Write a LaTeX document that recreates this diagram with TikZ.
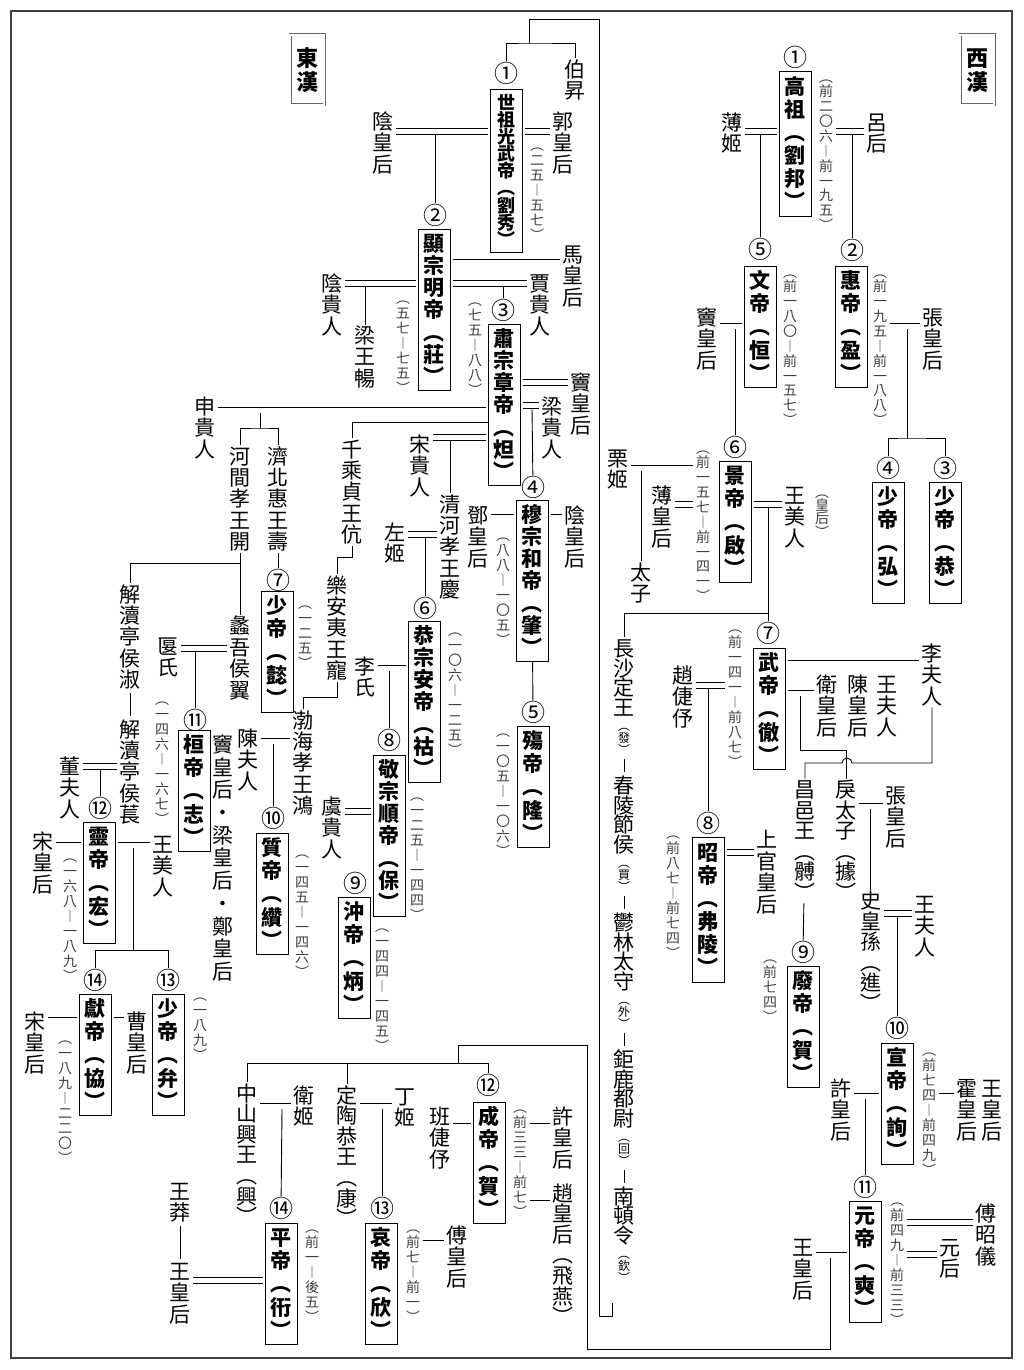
\documentclass[tikz,border=0pt]{standalone}
\usepackage{fontspec}
\newfontfamily\cjk{Noto Sans CJK TC}
\usetikzlibrary{positioning}

% vertical text: one character per line
\makeatletter
\newcommand\vt[2][1.02]{\vbox{\baselineskip=#1em\lineskip=0pt\lineskiplimit=-\maxdimen\vt@loop#2\@nil}}
\def\vt@loop#1{\ifx#1\@nil\else\hbox to 1.05em{\hss\vrule height .88em depth .12em width 0pt#1\hss}\expandafter\vt@loop\fi}
\makeatother

% marriage line between two nodes at height #3
\newcommand\wed[3]{%
  \path (0,#3) coordinate (wy);
  \draw[dbl] (#1.east |- wy) -- (#2.west |- wy);}

\begin{document}
\begin{tikzpicture}[
  x=1pt, y=-1pt, line width=0.9pt,
  emp/.style={draw=black, line width=1pt, minimum width=32pt, inner xsep=4pt, inner ysep=4pt,
              font=\cjk\bfseries\fontsize{21}{21}\selectfont},
  lab/.style={inner sep=0pt, font=\cjk\fontsize{21}{21}\selectfont},
  dt/.style={inner sep=0pt, text=black!75, font=\cjk\fontsize{14}{14}\selectfont},
  sml/.style={inner sep=0pt, font=\cjk\fontsize{14}{14}\selectfont},
  par/.style={inner sep=0pt, font=\cjk\fontsize{12}{12}\selectfont},
  num/.style={inner sep=0pt, font=\cjk\fontsize{24}{24}\selectfont},
  ttl/.style={draw=black!60, double=white, double distance=1.2pt, line width=0.9pt,
              minimum width=34pt, minimum height=70pt, inner sep=0pt,
              font=\cjk\bfseries\fontsize{22}{22}\selectfont},
  dbl/.style={double=white, double distance=5pt, line width=0.9pt, shorten <=2pt, shorten >=2pt},
]
  \useasboundingbox (0,0) rectangle (1024,1370);
  \draw[line width=1.2pt, black!75] (11,11) rectangle (1012,1358);

  \node[ttl] (tE) at (307,70) {\vt[1.1]{東漢}};
  \node[ttl] (tW) at (977,70) {\vt[1.1]{西漢}};

  % ---------- Western Han ----------
  \node[emp] (gaozu) at (795,144) {\vt[1.1]{高祖︵劉邦︶}};
  \node[num] (n1w) at (795,57) {①};
  \node[dt] (d-gaozu) at (826,151) {\vt[1.06]{︵前二〇六︱前一九五︶}};
  \node[lab] (boji) at (732,133) {\vt{薄姬}};
  \node[lab] (lvhou) at (877,133) {\vt{呂后}};

  \node[emp] (wendi) at (760,327) {\vt[1.1]{文帝︵恒︶}};
  \node[num] (n5w) at (760,249) {⑤};
  \node[dt] (d-wendi) at (790,346) {\vt[1.06]{︵前一八〇︱前一五七︶}};
  \node[lab] (douhh) at (707,339) {\vt{竇皇后}};

  \node[emp] (huidi) at (851,327) {\vt[1.1]{惠帝︵盈︶}};
  \node[num] (n2w) at (852,250) {②};
  \node[dt] (d-huidi) at (880,346) {\vt[1.06]{︵前一九五︱前一八八︶}};
  \node[lab] (zhanghh) at (933,339) {\vt{張皇后}};

  \node[emp] (shaodi4) at (888,543) {\vt[1.1]{少帝︵弘︶}};
  \node[num] (n4w) at (888,468) {④};
  \node[emp] (shaodi3) at (945,543) {\vt[1.1]{少帝︵恭︶}};
  \node[num] (n3w) at (945,468) {③};

  \node[emp] (jingdi) at (735,522) {\vt[1.1]{景帝︵啟︶}};
  \node[num] (n6w) at (735,447) {⑥};
  \node[dt] (d-jingdi) at (703,522) {\vt[1.06]{︵前一五七︱前一四一︶}};
  \node[lab] (liji) at (618,469) {\vt{栗姬}};
  \node[lab] (bohh) at (662,517) {\vt{薄皇后}};
  \node[lab] (taizi) at (641,583) {\vt{太子}};
  \node[lab] (wangmr) at (795,517) {\vt{王美人}};
  \node[sml, text=black!75] (wangmr-p) at (822,512) {\vt[0.95]{︵皇后︶}};

  \node[emp] (wudi) at (769,709) {\vt[1.1]{武帝︵徹︶}};
  \node[num] (n7w) at (768,633) {⑦};
  \node[dt] (d-wudi) at (735,695) {\vt[1.07]{︵前一四一︱前八七︶}};
  \node[lab] (zhaojy) at (683,697) {\vt{趙倢伃}};
  \node[lab] (lifr) at (932,675) {\vt{李夫人}};
  \node[lab] (weihh) at (827,706) {\vt{衛皇后}};
  \node[lab] (chenhh) at (858,706) {\vt{陳皇后}};
  \node[lab] (wangfr) at (887,706) {\vt{王夫人}};
  \node[lab] (cyw) at (805,841) {\vt[0.98]{昌邑王︵髆︶}};
  \node[lab] (litz) at (846,841) {\vt[0.98]{戾太子︵據︶}};
  \node[lab] (zhanghh2) at (896,817) {\vt{張皇后}};
  \node[lab] (shs) at (871,952) {\vt[0.98]{史皇孫︵進︶}};
  \node[lab] (wangfr2) at (925,926) {\vt{王夫人}};

  \node[emp] (zhaodi) at (708,910) {\vt[1.1]{昭帝︵弗陵︶}};
  \node[num] (n8w) at (708,823) {⑧};
  \node[dt] (d-zhaodi) at (673,893) {\vt[1.07]{︵前八七︱前七四︶}};
  \node[lab] (sgh) at (767,872) {\vt{上官皇后}};

  \node[emp] (feidi) at (803,1027) {\vt[1.1]{廢帝︵賀︶}};
  \node[num] (n9w) at (803,952) {⑨};
  \node[dt] (d-feidi) at (770,987) {\vt[1.07]{︵前七四︶}};

  \node[emp] (xuandi) at (897,1104) {\vt[1.1]{宣帝︵詢︶}};
  \node[num] (n10w) at (897,1028) {⑩};
  \node[dt] (d-xuandi) at (929,1110) {\vt[1.07]{︵前七四︱前四九︶}};
  \node[lab] (xuhh) at (841,1110) {\vt{許皇后}};
  \node[lab] (huohh) at (967,1110) {\vt{霍皇后}};
  \node[lab] (wanghh2) at (992,1110) {\vt{王皇后}};

  \node[emp] (yuandi) at (865,1262) {\vt[1.1]{元帝︵奭︶}};
  \node[num] (n11w) at (865,1187) {⑪};
  \node[dt] (d-yuandi) at (897,1260) {\vt[1.07]{︵前四九︱前三三︶}};
  \node[lab] (fuzy) at (986,1235) {\vt{傅昭儀}};
  \node[lab] (yuanhou) at (950,1258) {\vt{元后}};
  \node[lab] (wanghh3) at (803,1269) {\vt{王皇后}};

  % line of Changsha down to Eastern Han
  \node[lab] (csw) at (624,678) {\vt[0.95]{長沙定王}};
  \node[par, below=1pt of csw] (csw-p) {\vt[1.0]{︵發︶}};
  \node[lab] (cl) at (624,815) {\vt[0.95]{春陵節侯}};
  \node[par, below=1pt of cl] (cl-p) {\vt[1.0]{︵買︶}};
  \node[lab] (yl) at (624,952) {\vt[0.95]{鬱林太守}};
  \node[par, below=1pt of yl] (yl-p) {\vt[1.0]{︵外︶}};
  \node[lab] (jl) at (624,1089) {\vt[0.95]{鉅鹿都尉}};
  \node[par, below=1pt of jl] (jl-p) {\vt[1.0]{︵回︶}};
  \node[lab] (nd) at (624,1216) {\vt[0.95]{南頓令}};
  \node[par, below=1pt of nd] (nd-p) {\vt[1.0]{︵欽︶}};

  \wed{boji}{gaozu}{131.5}
  \wed{d-gaozu}{lvhou}{131.5}
  \wed{douhh}{wendi}{326}
  \wed{d-huidi}{zhanghh}{326}
  \wed{liji}{d-jingdi}{468}
  \wed{bohh}{d-jingdi}{504.5}
  \wed{jingdi}{wangmr}{504.5}
  \wed{zhaojy}{d-wudi}{685.5}
  \wed{wudi}{lifr}{663}
  \wed{wudi}{weihh}{693}
  \wed{litz}{zhanghh2}{806}
  \wed{shs}{wangfr2}{913.5}
  \wed{zhaodi}{sgh}{852.5}
  \wed{xuhh}{xuandi}{1096}
  \wed{d-xuandi}{huohh}{1096}
  \wed{wanghh3}{yuandi}{1255}
  \wed{d-yuandi}{fuzy}{1222.5}
  \wed{d-yuandi}{yuanhou}{1254.5}

  \coordinate (j-gb) at (760,135);
  \coordinate (j-gl) at (852,135);
  \coordinate (j-wd) at (735,329);
  \coordinate (j-hz) at (907,329);
  \coordinate (b-hz) at (907,438);
  \coordinate (j-lj) at (641,471);
  \coordinate (j-jw) at (768,508);
  \coordinate (b-jw) at (768,613);
  \coordinate (j-zj) at (708,688);
  \coordinate (j-wh) at (800,696);
  \coordinate (b-wh) at (800,750);
  \coordinate (hop) at (852,763);
  \coordinate (j-lz) at (870,809);
  \coordinate (j-sw) at (897,917);
  \coordinate (j-xx) at (865,1099);
  \draw (j-gb) -- (n5w);
  \draw (j-gl) -- (n2w);
  \draw (j-wd) -- (n6w);
  \draw (j-hz) -- (b-hz);
  \draw (n4w) |- (b-hz) -| (n3w);
  \draw (j-lj) -- (taizi);
  \draw (j-jw) -- (n7w);
  \draw (b-jw) -| (csw);
  \draw (j-zj) -- (n8w);
  \draw (j-wh) -- (b-wh) -| (litz);
  \draw (lifr) |- (hop) arc[start angle=0, end angle=180, radius=5pt] -| (cyw);
  \draw (cyw) -- (n9w);
  \draw (j-lz) -- (j-lz |- shs.north);
  \draw (j-sw) -- (n10w);
  \draw (j-xx) -- (n11w);
  \draw[shorten <=2pt, shorten >=2pt] (csw-p) -- (cl);
  \draw[shorten <=2pt, shorten >=2pt] (cl-p) -- (yl);
  \draw[shorten <=2pt, shorten >=2pt] (yl-p) -- (jl);
  \draw[shorten <=2pt, shorten >=2pt] (jl-p) -- (nd);

  % ---------- Eastern Han ----------
  \node[emp, font=\cjk\bfseries\fontsize{18}{18}\selectfont] (gwd) at (506,171) {\vt[0.95]{世祖光武帝︵劉秀︶}};
  \node[num] (n1e) at (506,73) {①};
  \node[dt] (d-gwd) at (537,190) {\vt[1.07]{︵二五︱五七︶}};
  \node[lab] (bosheng) at (575,80) {\vt{伯昇}};
  \node[lab] (guohh) at (563,143) {\vt{郭皇后}};
  \node[lab] (yinhh) at (383,143) {\vt{陰皇后}};

  \node[emp] (xzd) at (434,310) {\vt[1.05]{顯宗明帝︵莊︶}};
  \node[num] (n2e) at (435,215) {②};
  \node[dt] (d-xzd) at (403,343) {\vt[1.07]{︵五七︱七五︶}};
  \node[lab] (mahh) at (573,276) {\vt{馬皇后}};
  \node[lab] (jiagr) at (540,305) {\vt{賈貴人}};
  \node[lab] (yingr) at (332,305) {\vt{陰貴人}};
  \node[lab] (lwc) at (365,357) {\vt{梁王暢}};

  \node[emp] (szd) at (504,405) {\vt[1.05]{肅宗章帝︵炟︶}};
  \node[num] (n3e) at (503,310) {③};
  \node[dt] (d-szd) at (475,345) {\vt[1.07]{︵七五︱八八︶}};
  \node[lab] (douhh2) at (581,404) {\vt{竇皇后}};
  \node[lab] (lianggr) at (552,428) {\vt{梁貴人}};
  \node[lab] (shengr) at (205,428) {\vt{申貴人}};
  \node[lab] (hejian) at (240,499) {\vt{河間孝王開}};
  \node[lab] (jibei) at (278,499) {\vt{濟北惠王壽}};
  \node[lab] (qiancheng) at (352,492) {\vt{千乘貞王伉}};
  \node[lab] (lean) at (337,628) {\vt{樂安夷王寵}};
  \node[lab] (bohai) at (303,763) {\vt{渤海孝王鴻}};
  \node[lab] (songgr) at (420,466) {\vt{宋貴人}};
  \node[lab] (qinghe) at (450,547) {\vt{清河孝王慶}};
  \node[lab] (zuoji) at (395,543) {\vt{左姬}};

  \node[emp] (mzd) at (532,581) {\vt[1.05]{穆宗和帝︵肇︶}};
  \node[num] (n4e) at (533,487) {④};
  \node[dt] (d-mzd) at (503,588) {\vt[1.07]{︵八八︱一〇五︶}};
  \node[lab] (denghh) at (478,537) {\vt{鄧皇后}};
  \node[lab] (yinhh2) at (575,537) {\vt{陰皇后}};

  \node[emp] (shangdi) at (533,787) {\vt[1.1]{殤帝︵隆︶}};
  \node[num] (n5e) at (533,712) {⑤};
  \node[dt] (d-shangdi) at (503,791) {\vt[1.07]{︵一〇五︱一〇六︶}};

  \node[emp] (gzad) at (424,702) {\vt[1.05]{恭宗安帝︵祜︶}};
  \node[num] (n6e) at (425,608) {⑥};
  \node[dt] (d-gzad) at (455,690) {\vt[1.07]{︵一〇六︱一二五︶}};
  \node[lab] (lishi) at (365,677) {\vt{李氏}};

  \node[emp] (shaodi7) at (277,652) {\vt[1.1]{少帝︵懿︶}};
  \node[num] (n7e) at (278,580) {⑦};
  \node[dt] (d-shaodi7) at (305,633) {\vt[1.07]{︵一二五︶}};

  \node[emp] (jszd) at (389,836) {\vt[1.05]{敬宗順帝︵保︶}};
  \node[num] (n8e) at (389,740) {⑧};
  \node[dt] (d-jszd) at (417,855) {\vt[1.07]{︵一二五︱一四四︶}};
  \node[lab] (yugr) at (332,828) {\vt{虞貴人}};

  \node[emp] (chongdi) at (354,958) {\vt[1.1]{沖帝︵炳︶}};
  \node[num] (n9e) at (355,883) {⑨};
  \node[dt] (d-chongdi) at (382,986) {\vt[1.07]{︵一四四︱一四五︶}};

  \node[emp] (zhidi) at (272,894) {\vt[1.1]{質帝︵纘︶}};
  \node[num] (n10e) at (273,818) {⑩};
  \node[dt] (d-zhidi) at (302,912) {\vt[1.07]{︵一四五︱一四六︶}};
  \node[lab] (chenfr) at (248,760) {\vt{陳夫人}};

  \node[lab] (liwu) at (240,658) {\vt{蠡吾侯翼}};
  \node[lab] (xds) at (130,637) {\vt{解瀆亭侯淑}};
  \node[lab] (xdc) at (130,772) {\vt{解瀆亭侯萇}};
  \node[lab] (yanshi) at (168,657) {\vt{匽氏}};

  \node[emp] (huandi) at (194,791) {\vt[1.1]{桓帝︵志︶}};
  \node[num] (n11e) at (195,720) {⑪};
  \node[dt] (d-huandi) at (162,759) {\vt[1.07]{︵一四六︱一六七︶}};
  \node[lab] (dlz) at (223,858) {\vt[1.08]{竇皇后・梁皇后・鄭皇后}};

  \node[emp] (lingdi) at (99,883) {\vt[1.1]{靈帝︵宏︶}};
  \node[num] (n12e) at (100,808) {⑫};
  \node[dt] (d-lingdi) at (70,916) {\vt[1.07]{︵一六八︱一八九︶}};
  \node[lab] (dongfr) at (70,788) {\vt{董夫人}};
  \node[lab] (songhh2) at (43,863) {\vt{宋皇后}};
  \node[lab] (wangmr2) at (163,866) {\vt{王美人}};

  \node[emp] (xiandi) at (95,1055) {\vt[1.1]{獻帝︵協︶}};
  \node[num] (n14e) at (95,980) {⑭};
  \node[dt] (d-xiandi) at (65,1098) {\vt[1.07]{︵一八九︱二二〇︶}};
  \node[emp] (shaodi13) at (168,1055) {\vt[1.1]{少帝︵弁︶}};
  \node[num] (n13e) at (168,980) {⑬};
  \node[dt] (d-shaodi13) at (200,1025) {\vt[1.07]{︵一八九︶}};
  \node[lab] (songhh3) at (35,1043) {\vt{宋皇后}};
  \node[lab] (caohh) at (137,1043) {\vt{曹皇后}};

  % sons of Yuandi
  \node[lab] (zsw) at (247,1155) {\vt[0.98]{中山興王︵興︶}};
  \node[lab] (weiji) at (304,1106) {\vt{衛姬}};
  \node[emp] (pingdi) at (281,1284) {\vt[1.1]{平帝︵衎︶}};
  \node[num] (n14c) at (281,1208) {⑭};
  \node[dt] (d-pingdi) at (312,1272) {\vt[1.07]{︵前一︱後五︶}};
  \node[lab] (wangmang) at (180,1202) {\vt{王莽}};
  \node[lab] (wanghh4) at (180,1293) {\vt{王皇后}};

  \node[lab] (dtgw) at (347,1157) {\vt[0.98]{定陶恭王︵康︶}};
  \node[lab] (dingji) at (405,1107) {\vt{丁姬}};
  \node[emp] (aidi) at (381,1284) {\vt[1.1]{哀帝︵欣︶}};
  \node[num] (n13c) at (382,1208) {⑬};
  \node[dt] (d-aidi) at (413,1272) {\vt[1.07]{︵前七︱前一︶}};
  \node[lab] (fuhh) at (457,1257) {\vt{傅皇后}};

  \node[emp] (chengdi) at (489,1163) {\vt[1.1]{成帝︵賀︶}};
  \node[num] (n12c) at (488,1085) {⑫};
  \node[dt] (d-chengdi) at (520,1160) {\vt[1.07]{︵前三三︱前七︶}};
  \node[lab] (banjy) at (440,1138) {\vt{班倢伃}};
  \node[lab] (xuhh2) at (563,1138) {\vt{許皇后}};
  \node[lab] (zhaohh) at (563,1255) {\vt[0.98]{趙皇后︵飛燕︶}};

  \wed{yinhh}{gwd}{131.5}
  \wed{gwd}{guohh}{131.5}
  \wed{xzd}{mahh}{262}
  \wed{xzd}{jiagr}{283.5}
  \wed{yingr}{xzd}{283.5}
  \wed{szd}{douhh2}{382.5}
  \wed{szd}{lianggr}{405.5}
  \wed{shengr}{szd}{410}
  \wed{songgr}{szd}{437.5}
  \wed{zuoji}{qinghe}{534.5}
  \wed{denghh}{mzd}{517}
  \wed{mzd}{yinhh2}{517}
  \wed{lishi}{gzad}{668}
  \wed{yugr}{jszd}{811.5}
  \wed{yanshi}{liwu}{648.5}
  \wed{chenfr}{bohai}{741}
  \wed{dongfr}{xdc}{766.5}
  \wed{songhh2}{lingdi}{845}
  \wed{lingdi}{wangmr2}{845}
  \wed{songhh3}{xiandi}{1020}
  \wed{xiandi}{caohh}{1020}
  \wed{zsw}{weiji}{1106}
  \wed{dtgw}{dingji}{1106}
  \wed{wanghh4}{pingdi}{1280.5}
  \wed{d-aidi}{fuhh}{1243}
  \wed{banjy}{chengdi}{1126}
  \wed{d-chengdi}{xuhh2}{1126}
  \wed{d-chengdi}{zhaohh}{1203}

  \coordinate (b-top) at (529,43);
  \coordinate (dv-a) at (599,19);
  \coordinate (dv-b) at (599,1316);
  \coordinate (dv-c) at (612,1316);
  \coordinate (dv-d) at (612,1303);
  \draw (n1e) |- (b-top) -| (bosheng);
  \draw (b-top) |- (dv-a) -- (dv-b) -- (dv-c) -- (dv-d);

  \coordinate (j-yg) at (435,135);
  \coordinate (j-xj) at (503,287);
  \coordinate (j-xy) at (365,287);
  \coordinate (j-sl) at (532,408);
  \coordinate (j-ss) at (260,413);
  \coordinate (b-ss) at (260,428);
  \coordinate (j-qc) at (488,422);
  \coordinate (j-sq) at (450,440);
  \coordinate (j-zq) at (425,537);
  \coordinate (k-qc) at (337,557);
  \coordinate (k-la) at (303,697);
  \coordinate (b-hj) at (240,563);
  \coordinate (j-yl) at (195,652);
  \coordinate (j-la) at (389,671);
  \coordinate (j-cb) at (273,744);
  \coordinate (j-dx) at (100,770);
  \coordinate (j-lw) at (133,848);
  \coordinate (b-lw) at (133,950);
  \draw (j-yg) -- (n2e);
  \draw (j-xj) -- (n3e);
  \draw (j-xy) -- (lwc);
  \draw (j-sl) -- (n4e);
  \draw (j-ss) -- (b-ss);
  \draw (hejian) |- (b-ss) -| (jibei);
  \draw (j-qc) -| (qiancheng);
  \draw (j-sq) -- (qinghe);
  \draw (j-zq) -- (n6e);
  \draw (qiancheng) |- (k-qc) -- (lean);
  \draw (lean) |- (k-la) -- (bohai);
  \draw (jibei) -- (n7e);
  \draw (hejian) -- (liwu);
  \draw (b-hj) -| (xds);
  \draw[shorten <=2pt, shorten >=2pt] (xds) -- (xdc);
  \draw (j-yl) -- (n11e);
  \draw (mzd) -- (n5e);
  \draw (j-la) -- (n8e);
  \draw (j-cb) -- (n10e);
  \draw (j-dx) -- (n12e);
  \draw (j-lw) -- (b-lw);
  \draw (n14e) |- (b-lw) -| (n13e);

  % Yuandi's sons
  \coordinate (j-yw) at (830,1258);
  \coordinate (k1) at (587,1349);
  \coordinate (k2) at (458,1045);
  \coordinate (k3) at (458,1063);
  \coordinate (j-zw) at (282,1109);
  \coordinate (j-dd) at (382,1109);
  \draw (j-yw) |- (k1) |- (k2) -- (k3);
  \draw (zsw) |- (k3) -| (n12c);
  \draw (dtgw) -- (dtgw |- k3);
  \draw (j-zw) -- (n14c);
  \draw (j-dd) -- (n13c);
  \draw[shorten <=2pt, shorten >=2pt] (wangmang) -- (wanghh4);
\end{tikzpicture}
\end{document}
